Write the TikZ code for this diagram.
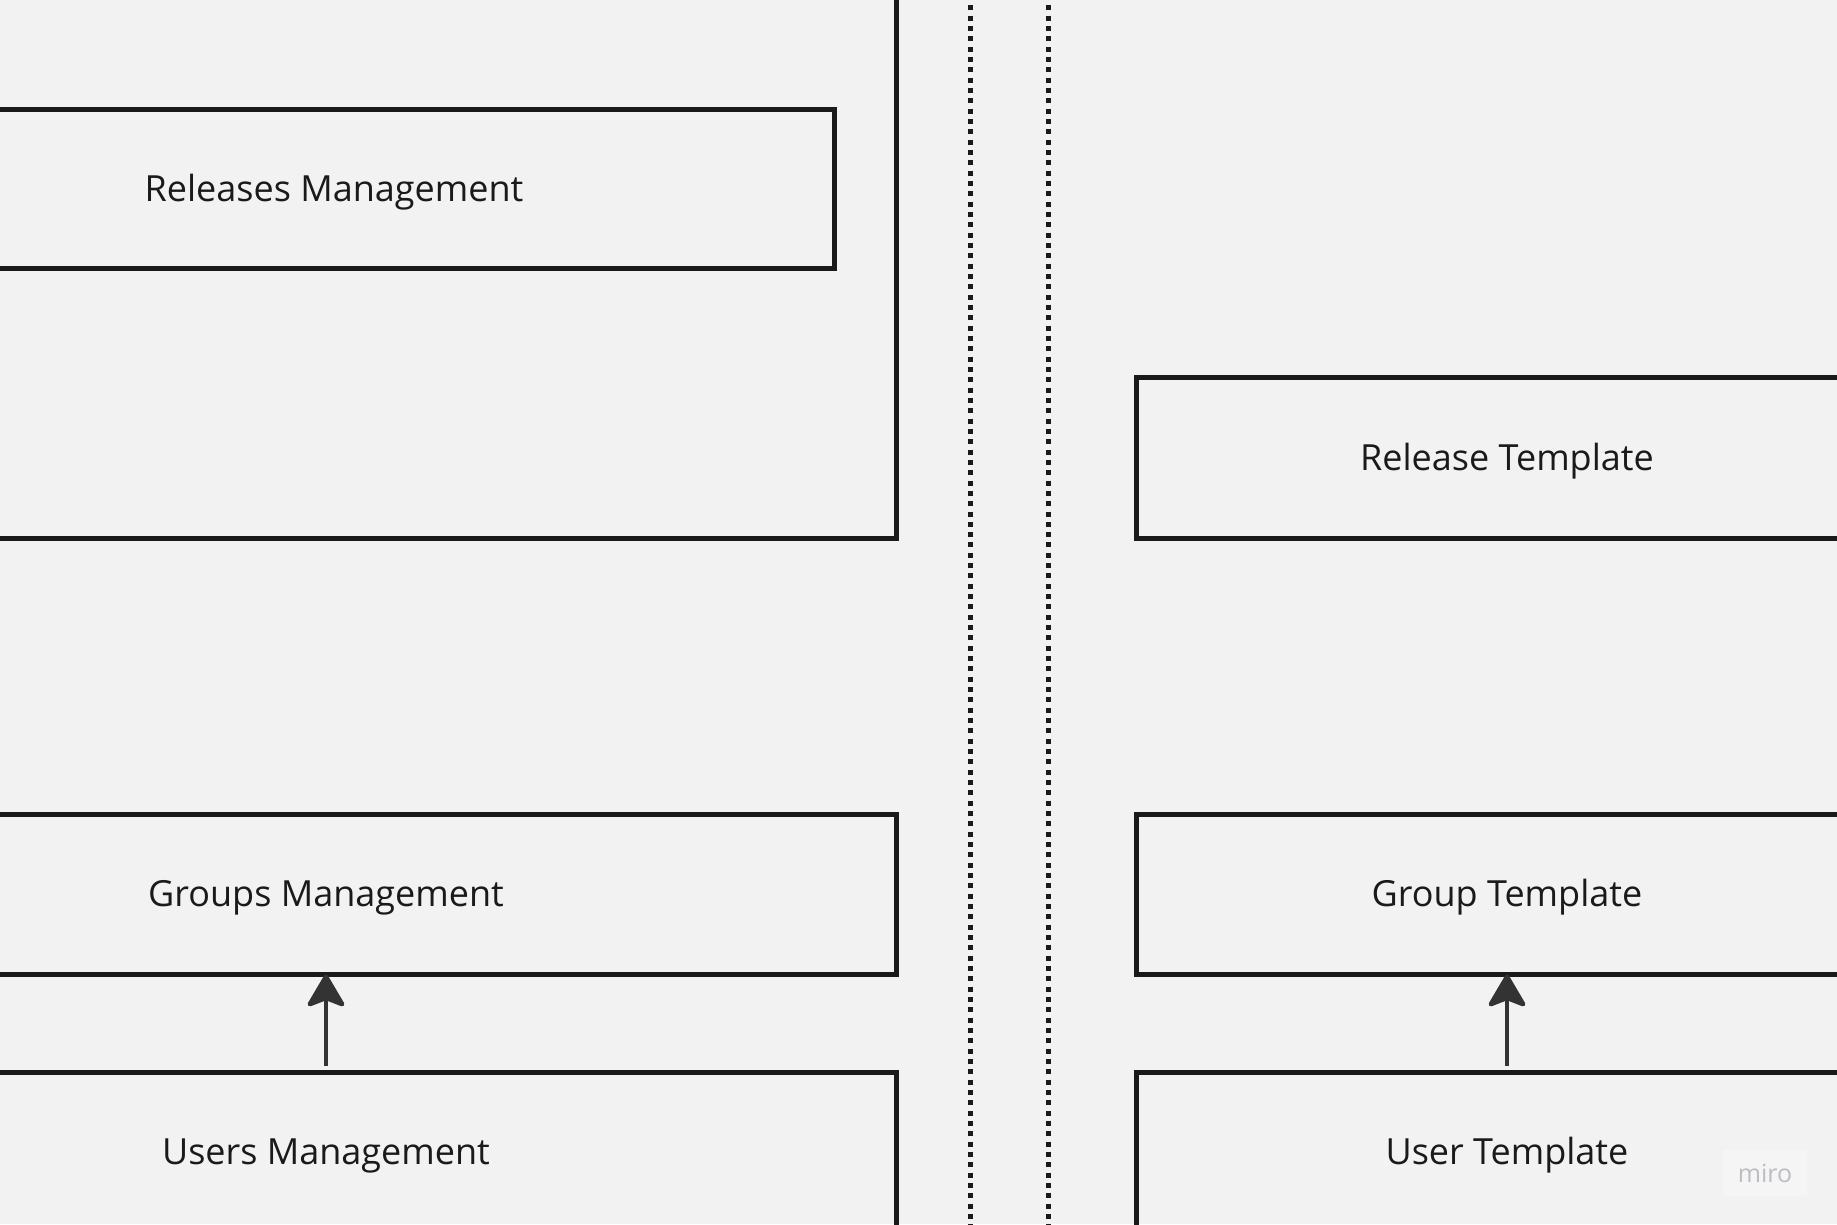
\documentclass[tikz,border=0pt]{standalone}
\usepackage{fontspec}
\setmainfont{Open Sans}
\usetikzlibrary{arrows.meta}
\definecolor{bg}{HTML}{F2F2F2}
\definecolor{ink}{HTML}{1A1A1A}
\definecolor{arrowink}{HTML}{333333}
\definecolor{wm}{HTML}{BCBCC4}
\definecolor{wmbg}{HTML}{F5F5F5}
\tikzset{
  box/.style={draw=ink, line width=5pt, rectangle, text=ink, inner sep=0pt,
    text height=34pt, text depth=8.5pt,
    font=\fontsize{36}{43}\selectfont},
  sep/.style={draw=ink, line width=5pt, dash pattern=on 5pt off 5.33pt},
  arr/.style={draw=arrowink, line width=4.5pt,
    -{Stealth[length=36pt, width=42pt, inset=8pt, round]}},
}
\begin{document}
\begin{tikzpicture}[x=1pt, y=-1pt]
  \clip (0,0) rectangle (1837,1224);
  \fill[bg] (0,0) rectangle (1837,1224);
  % outer container (partly visible)
  \node[box, minimum width=1196pt, minimum height=588pt] (outer) at (298,244) {};
  \node[box, minimum width=1000pt, minimum height=159pt] (rel) at (334,188.5) {Releases Management};
  \node[box, minimum width=741pt, minimum height=161pt] (relT) at (1507,457.5) {Release Template};
  \node[box, minimum width=1140pt, minimum height=160pt] (grp) at (326,894) {Groups Management};
  \node[box, minimum width=1140pt, minimum height=160pt] (usr) at (326,1152) {Users Management};
  \node[box, minimum width=741pt, minimum height=160pt] (grpT) at (1507,894) {Group Template};
  \node[box, minimum width=741pt, minimum height=160pt] (usrT) at (1507,1152) {User Template};
  % dotted separators
  \coordinate (s1t) at (970,-5);
  \coordinate (s1b) at (970,1230);
  \coordinate (s2t) at (1048.5,-5);
  \coordinate (s2b) at (1048.5,1230);
  \draw[sep] (s1t) -- (s1b);
  \draw[sep] (s2t) -- (s2b);
  % arrows
  \draw[arr, shorten <=4pt, shorten >=-2pt] (usr.north) -- (grp.south);
  \draw[arr, shorten <=4pt, shorten >=-2pt] (usrT.north) -- (grpT.south);
  % watermark
  \node[fill=wmbg, minimum width=84pt, minimum height=46pt, text=wm,
    font=\fontsize{25}{30}\selectfont] (miro) at (1765,1173) {miro};
\end{tikzpicture}
\end{document}
